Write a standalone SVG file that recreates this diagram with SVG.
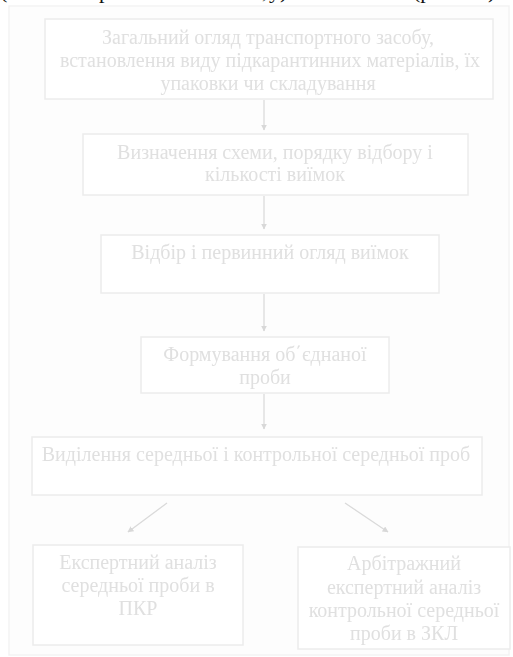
<svg xmlns="http://www.w3.org/2000/svg" width="513" height="657" viewBox="0 0 513 657">
<defs>
<marker id="ah" viewBox="0 0 10 10" refX="9" refY="5" markerWidth="6" markerHeight="6" orient="auto" markerUnits="userSpaceOnUse">
<path d="M0,0 L10,5 L0,10 z" fill="#d8d8d8"/>
</marker>
<filter id="soft" x="-5%" y="-5%" width="110%" height="110%"><feGaussianBlur stdDeviation="0.6"/></filter>
</defs>
<style>
.box{fill:#ffffff;stroke:#ececec;stroke-width:1.5}
.t{font-family:"Liberation Serif","Times New Roman",serif;font-size:20px;fill:#e0e0e0;text-anchor:middle}
.top{font-family:"Liberation Serif","Times New Roman",serif;font-size:22px;fill:#111}
.c{stroke:#dadada;stroke-width:1.3;fill:none;marker-end:url(#ah)}
</style>
<rect width="513" height="657" fill="#ffffff"/>
<text class="top" y="-2"><tspan x="0">(</tspan><tspan x="99">р</tspan><tspan x="262">,</tspan><tspan x="269">у)</tspan><tspan x="413">(р</tspan><tspan x="488">)</tspan></text>
<rect x="9" y="6" width="500" height="649" fill="#fdfdfd" stroke="#f3f3f3" stroke-width="1.5"/>
<g filter="url(#soft)">
<g id="n1"><rect class="box" x="45" y="19" width="448" height="80"/>
<text class="t" x="268" y="44">Загальний огляд транспортного засобу,</text>
<text class="t" x="270" y="67">встановлення виду підкарантинних матеріалів, їх</text>
<text class="t" x="268" y="90">упаковки чи складування</text></g>
<g id="n2"><rect class="box" x="83" y="134" width="385" height="61"/>
<text class="t" x="275" y="159">Визначення схеми, порядку відбору і</text>
<text class="t" x="275" y="181">кількості виїмок</text></g>
<g id="n3"><rect class="box" x="101" y="235" width="338" height="58"/>
<text class="t" x="270" y="259">Відбір і первинний огляд виїмок</text></g>
<g id="n4"><rect class="box" x="141" y="337" width="248" height="56"/>
<text class="t" x="265" y="361">Формування об΄єднаної</text>
<text class="t" x="265" y="384">проби</text></g>
<g id="n5"><rect class="box" x="32" y="437" width="450" height="58"/>
<text class="t" x="256" y="461">Виділення середньої і контрольної середньої проб</text></g>
<g id="n6"><rect class="box" x="33" y="545" width="210" height="100"/>
<text class="t" x="138" y="569">Експертний аналіз</text>
<text class="t" x="138" y="592">середньої проби в</text>
<text class="t" x="138" y="615">ПКР</text></g>
<g id="n7"><rect class="box" x="298" y="547" width="212" height="102"/>
<text class="t" x="404" y="570">Арбітражний</text>
<text class="t" x="404" y="594">експертний аналіз</text>
<text class="t" x="404" y="617">контрольної середньої</text>
<text class="t" x="404" y="640">проби в ЗКЛ</text></g>
<g id="connectors">
<line class="c" x1="264" y1="100" x2="264" y2="130"/>
<line class="c" x1="264" y1="196" x2="264" y2="229"/>
<line class="c" x1="264" y1="294" x2="264" y2="331"/>
<line class="c" x1="264" y1="394" x2="264" y2="429"/>
<line class="c" x1="167" y1="503" x2="128" y2="532"/>
<line class="c" x1="345" y1="503" x2="388" y2="532"/>
</g>
</g>
</svg>
